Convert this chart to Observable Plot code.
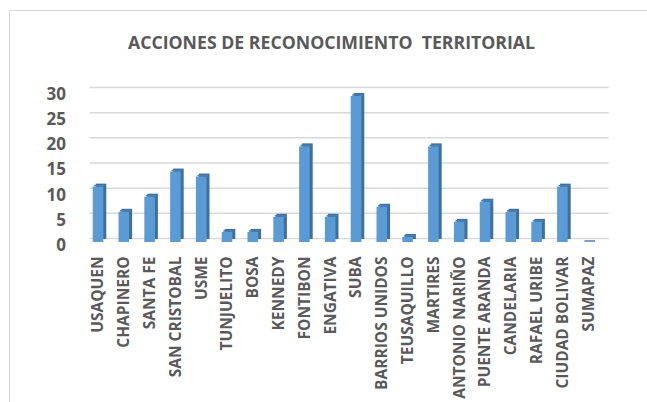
<!DOCTYPE html>
<html>
<head>
<meta charset="utf-8">
<script src="https://cdn.jsdelivr.net/npm/d3@7"></script>
<script src="https://cdn.jsdelivr.net/npm/@observablehq/plot@0.6"></script>
<style>
  html, body { margin: 0; padding: 0; background: #fff; }
  #wrap { position: relative; width: 647px; height: 402px; overflow: hidden; }
  #frame { position: absolute; left: 9px; top: 10px; width: 700px; height: 500px; border: 1px solid #d9d9d9; box-sizing: border-box; }
  #title { position: relative; height: 60px; box-sizing: border-box; padding-top: 32px; padding-left: 16px; text-align: center;
           font-family: "Open Sans", sans-serif; font-weight: 700; font-size: 17.7px; line-height: 20px; color: #595959; white-space: pre; }
  #chart { position: relative; }
</style>
</head>
<body>
<div id="wrap">
  <div id="frame"></div>
  <div id="title">ACCIONES DE RECONOCIMIENTO  TERRITORIAL</div>
  <div id="chart"></div>
</div>
<script>
const districts = ["USAQUEN","CHAPINERO","SANTA FE","SAN CRISTOBAL","USME","TUNJUELITO","BOSA","KENNEDY","FONTIBON","ENGATIVA","SUBA","BARRIOS UNIDOS","TEUSAQUILLO","MARTIRES","ANTONIO NARIÑO","PUENTE ARANDA","CANDELARIA","RAFAEL URIBE","CIUDAD BOLIVAR","SUMAPAZ"];
const acciones = [11,6,9,14,13,2,2,5,19,5,29,7,1,19,4,8,6,4,11,0];
const yTicks = [0,5,10,15,20,25,30];

const data = districts.map((d, i) => ({district: d, value: acciones[i]}));

const chart = Plot.plot({
  width: 647,
  height: 342,
  marginLeft: 77.5,
  marginRight: 38.3,
  marginTop: 31,
  marginBottom: 160,
  x: {domain: districts, padding: 0.59, round: false, label: null, axis: null},
  y: {domain: [0, 30], label: null, axis: null},
  style: {fontFamily: "'Open Sans', sans-serif", fontWeight: 700, color: "#595959", background: "transparent"},
  marks: [
    Plot.ruleY(yTicks, {stroke: "#d9d9d9", strokeWidth: 1.5, dy: -4, insetLeft: 12}),
    Plot.axisY({ticks: yTicks, tickSize: 0, tickPadding: 12, fontSize: 17, dy: 3, label: null}),
    Plot.axisX({tickRotate: -90, tickSize: 0, tickPadding: 14, fontSize: 15.5, label: null}),
    Plot.barY(data, {x: "district", y: "value", fill: "#3e6f9e", dx: 3, dy: -3}),
    Plot.barY(data, {x: "district", y: "value", fill: "#5b9bd5"}),
    Plot.tickY(data, {x: "district", y: "value", stroke: "#4a80b5", strokeWidth: 1.5, dx: 1.5, dy: -1.5})
  ]
});
document.getElementById("chart").appendChild(chart);
</script>
</body>
</html>
